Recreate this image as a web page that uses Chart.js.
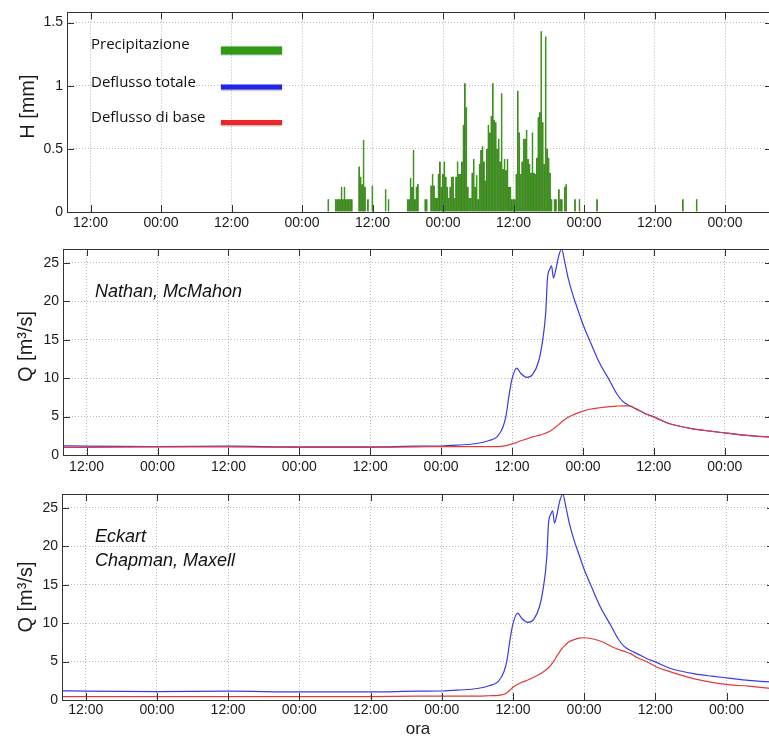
<!DOCTYPE html>
<html>
<head>
<meta charset="utf-8">
<script src="https://cdn.jsdelivr.net/npm/chart.js@4.4.1/dist/chart.umd.min.js"></script>
<style>
    html, body { margin: 0; padding: 0; background: #fff; }
    body { width: 769px; height: 736px; overflow: hidden; position: relative; }
    .panel { position: absolute; left: 0; }
    #rain-panel { top: 0; width: 772px; height: 236px; }
    #flow-a-panel { top: 236px; width: 772px; height: 243px; }
    #flow-b-panel { top: 479px; width: 774px; height: 261px; }
</style>
</head>
<body>
<div class="panel" id="rain-panel"><canvas id="rain-chart"></canvas></div>
<div class="panel" id="flow-a-panel"><canvas id="flow-a-chart"></canvas></div>
<div class="panel" id="flow-b-panel"><canvas id="flow-b-chart"></canvas></div>
<script>
// hours counted from the first 12:00 tick
var hourMin = -4;
var hourMax = 116;
var tickHours = [0, 12, 24, 36, 48, 60, 72, 84, 96, 108];

// precipitation, 15 minute steps from hour 40.5
var rainStartHour = 40.5;
var rainStepHours = 0.25;
var rainValues = [
    0.1, 0, 0, 0, 0, 0.1, 0.1, 0.1, 0.1, 0.2,
    0.1, 0.2, 0.1, 0.1, 0.1, 0.1, 0.1, 0, 0, 0,
    0, 0.36, 0.28, 0.22, 0.57, 0.2, 0, 0.1, 0, 0,
    0.21, 0, 0, 0, 0, 0, 0, 0, 0, 0.18,
    0, 0.1, 0, 0, 0, 0, 0, 0, 0, 0,
    0, 0, 0, 0, 0.1, 0.1, 0.27, 0.2, 0.49, 0.1,
    0.2, 0.22, 0, 0, 0, 0, 0.1, 0.1, 0, 0,
    0.21, 0.3, 0.21, 0.11, 0.11, 0.3, 0.4, 0.2, 0.3, 0.4,
    0.28, 0.2, 0.11, 0.2, 0.28, 0.28, 0.11, 0.28, 0.4, 0.3,
    0.3, 0.4, 0.69, 1.02, 0.83, 0.2, 0.11, 0.11, 0.31, 0.42,
    0.2, 0.29, 0.1, 0.38, 0.49, 0.52, 0.4, 0.25, 0.5, 0.69,
    0.63, 0.76, 1.02, 0.73, 0.71, 0.5, 0.58, 0.4, 0.94, 0.34,
    0.42, 0.33, 0.42, 0.2, 0.2, 0.1, 0.1, 0.1, 0.3, 0.96,
    0.63, 0.3, 0.4, 0.58, 0.58, 0.65, 0.42, 0.38, 0.31, 0.63,
    0.31, 0.3, 0.43, 0.75, 0.79, 1.43, 0.71, 0.38, 1.39, 0.5,
    0.43, 0.31, 0.1, 0, 0.1, 0.1, 0, 0.18, 0.1, 0.1,
    0, 0.2, 0.22, 0, 0, 0, 0, 0, 0.1, 0,
    0, 0.1, 0, 0, 0, 0, 0, 0, 0, 0,
    0, 0, 0, 0.1
];
var lateRainHours = [100.85, 103.2];
var lateRainValues = [0.1, 0.1];

// discharge [m3/s]
var flowHours = [
    -4, 0, 12, 24, 36, 48, 56, 60, 63, 66,
    68, 69.5, 70.5, 71, 71.5, 72, 72.8, 73.5, 74.5, 75.5,
    76.5, 77.2, 77.7, 78, 78.4, 78.7, 79, 79.4, 79.9, 80.4,
    80.9, 81.5, 82.3, 83.1, 84, 85.2, 86.8, 88.5, 89.7, 90.7,
    91.9, 93, 94.5, 96.2, 98.2, 100, 102.6, 105.5, 108.3, 111.7,
    116
];
var totalFlow = [
    1.2, 1.15, 1.1, 1.15, 1.05, 1.05, 1.15, 1.17, 1.3, 1.5,
    1.85, 2.4, 3.7, 5.2, 7.8, 9.9, 11.3, 10.6, 10.1, 10.5,
    12.2, 15.0, 18.5, 23.0, 24.2, 24.6, 23.0, 24.1, 25.9, 26.8,
    25.2, 23.0, 20.8, 19.0, 17.0, 14.8, 12.0, 9.7, 8.0, 7.0,
    6.4, 6.0, 5.4, 4.9, 4.2, 3.8, 3.4, 3.1, 2.85, 2.55,
    2.3
];
var baseFlowNathan = [
    1.0, 1.0, 1.05, 1.05, 1.0, 1.0, 1.05, 1.1, 1.1, 1.1,
    1.1, 1.1, 1.15, 1.22, 1.32, 1.45, 1.65, 1.85, 2.1, 2.35,
    2.55, 2.7, 2.85, 2.95, 3.1, 3.25, 3.4, 3.65, 3.95, 4.3,
    4.6, 4.9, 5.2, 5.45, 5.7, 5.95, 6.15, 6.3, 6.35, 6.4,
    6.4, 6.0, 5.4, 4.9, 4.2, 3.8, 3.4, 3.1, 2.85, 2.55,
    2.3
];
var baseFlowEckart = [
    0.45, 0.45, 0.45, 0.45, 0.45, 0.45, 0.5, 0.5, 0.5, 0.5,
    0.55, 0.6, 0.75, 0.95, 1.3, 1.65, 2.05, 2.3, 2.6, 2.95,
    3.35, 3.7, 4.0, 4.2, 4.55, 4.85, 5.2, 5.7, 6.3, 6.8,
    7.2, 7.6, 7.85, 8.05, 8.1, 8.0, 7.65, 7.0, 6.6, 6.35,
    6.0, 5.5, 5.0, 4.3, 3.75, 3.3, 2.75, 2.3, 2.0, 1.8,
    1.45
];

var legendLabels = ['Precipitazione', 'Deflusso totale', 'Deflusso di base'];
var legendColors = ['#2f9a16', '#2323ee', '#ee2626'];

Chart.defaults.font.family = '"Liberation Sans", Arial, sans-serif';
Chart.defaults.color = '#1a1a1a';
Chart.defaults.animation = false;

function toPoints(hours, values) {
    return hours.map(function (h, i) { return { x: h, y: values[i] }; });
}

function rainPoints() {
    var pts = rainValues.map(function (v, i) {
        return { x: rainStartHour + i * rainStepHours, y: v };
    });
    return pts.concat(toPoints(lateRainHours, lateRainValues));
}

// matlab style box with inward ticks
var boxTicks = {
    id: 'boxTicks',
    afterDatasetsDraw: function (chart) {
        var ctx = chart.ctx, a = chart.chartArea, sx = chart.scales.x, sy = chart.scales.y;
        var len = 7;
        ctx.save();
        ctx.strokeStyle = '#333';
        ctx.lineWidth = 1;
        ctx.beginPath();
        sx.ticks.forEach(function (t) {
            var x = Math.round(sx.getPixelForValue(t.value)) + 0.5;
            ctx.moveTo(x, a.bottom); ctx.lineTo(x, a.bottom - len);
            ctx.moveTo(x, a.top); ctx.lineTo(x, a.top + len);
        });
        sy.ticks.forEach(function (t) {
            var y = Math.round(sy.getPixelForValue(t.value)) + 0.5;
            ctx.moveTo(a.left, y); ctx.lineTo(a.left + len, y);
            ctx.moveTo(a.right, y); ctx.lineTo(a.right - len, y);
        });
        ctx.stroke();
        ctx.strokeRect(Math.round(a.left) + 0.5, Math.round(a.top) + 0.5,
            Math.round(a.right - a.left), Math.round(a.bottom - a.top));
        ctx.restore();
    }
};

// free text inside the plot area (legend, method names)
var notes = {
    id: 'notes',
    afterDraw: function (chart, args, opts) {
        var ctx = chart.ctx, a = chart.chartArea;
        ctx.save();
        ctx.textBaseline = 'middle';
        (opts.items || []).forEach(function (item) {
            ctx.font = item.font;
            ctx.fillStyle = '#111';
            ctx.fillText(item.text, a.left + item.dx, a.top + item.dy);
            if (item.swatch) {
                ctx.shadowColor = 'rgba(0,0,0,0.35)';
                ctx.shadowBlur = 2;
                ctx.shadowOffsetY = 1;
                ctx.strokeStyle = item.swatch;
                ctx.lineWidth = item.swatchWidth;
                ctx.beginPath();
                ctx.moveTo(a.left + 154, a.top + item.swatchDy);
                ctx.lineTo(a.left + 215, a.top + item.swatchDy);
                ctx.stroke();
                ctx.shadowColor = 'transparent';
            }
        });
        ctx.restore();
    }
};

function xScale(height, pad) {
    return {
        type: 'linear',
        min: hourMin,
        max: hourMax,
        offset: false,
        afterFit: function (s) { s.height = height; },
        afterBuildTicks: function (s) {
            s.ticks = tickHours.map(function (h) { return { value: h }; });
        },
        ticks: {
            padding: pad,
            maxRotation: 0,
            autoSkip: false,
            font: { size: 14 },
            callback: function (v) { return v % 24 === 0 ? '12:00' : '00:00'; }
        },
        grid: { offset: false, color: '#b8b8b8', drawTicks: false },
        border: { display: false, dash: [1, 2] }
    };
}

function yScale(width, max, step, title, titlePad) {
    return {
        min: 0,
        max: max,
        afterFit: function (s) { s.width = width; },
        ticks: {
            stepSize: step,
            includeBounds: false,
            padding: 4,
            font: { size: 14 },
            callback: function (v) { return String(v); }
        },
        grid: { color: '#b8b8b8', drawTicks: false },
        border: { display: false, dash: [1, 2] },
        title: { display: true, text: title, font: { size: 20 }, padding: { top: titlePad, bottom: 0 } }
    };
}

function renderRain() {
    var ctx = document.getElementById('rain-chart');
    var items = legendLabels.map(function (label, i) {
        return {
            text: label,
            font: '15px "Open Sans", sans-serif',
            dx: 24,
            dy: [32.5, 70.5, 105.5][i],
            swatch: legendColors[i],
            swatchDy: [38, 74.5, 110][i],
            swatchWidth: i === 0 ? 8 : 5
        };
    });
    new Chart(ctx, {
        type: 'bar',
        data: {
            datasets: [{
                label: legendLabels[0],
                data: rainPoints(),
                backgroundColor: '#379a12',
                borderColor: 'rgba(25,35,20,0.7)',
                borderWidth: { left: 0.45, right: 0, top: 0, bottom: 0 },
                barPercentage: 1,
                categoryPercentage: 1
            }]
        },
        options: {
            responsive: true,
            maintainAspectRatio: false,
            layout: { padding: { top: 8, left: 0, right: 0, bottom: 0 } },
            plugins: { legend: { display: false }, tooltip: { enabled: false }, notes: { items: items } },
            scales: {
                x: xScale(24, 3),
                y: yScale(67, 1.58, 0.5, '  H [mm]', 16)
            }
        },
        plugins: [boxTicks, notes]
    });
}

function renderFlow(canvasId, baseFlow, yWidth, padTop, xHeight, xPad, yTitle, notesItems, withXTitle) {
    var ctx = document.getElementById(canvasId);
    var x = xScale(xHeight, xPad);
    if (withXTitle) {
        x.title = { display: true, text: 'ora', font: { size: 17 }, padding: 0 };
    }
    new Chart(ctx, {
        type: 'line',
        data: {
            datasets: [{
                label: legendLabels[2],
                data: toPoints(flowHours, baseFlow),
                borderColor: '#e03a3a',
                borderWidth: 1.2,
                pointRadius: 0,
                cubicInterpolationMode: 'monotone'
            }, {
                label: legendLabels[1],
                data: toPoints(flowHours, totalFlow),
                borderColor: '#3b3be2',
                borderWidth: 1.2,
                pointRadius: 0,
                cubicInterpolationMode: 'monotone'
            }]
        },
        options: {
            responsive: true,
            maintainAspectRatio: false,
            layout: { padding: { top: padTop, left: 0, right: 0, bottom: 0 } },
            plugins: { legend: { display: false }, tooltip: { enabled: false }, notes: { items: notesItems } },
            scales: {
                x: x,
                y: yScale(yWidth, 26.8, 5, yTitle, 14)
            }
        },
        plugins: [boxTicks, notes]
    });
}

var italic = 'italic 18px "Liberation Sans", Arial, sans-serif';

renderRain();
renderFlow('flow-a-chart', baseFlowNathan, 63, 13, 24, 4, '  Q [m\u00b3/s]', [
    { text: 'Nathan, McMahon', font: italic, dx: 32, dy: 43 }
], false);
renderFlow('flow-b-chart', baseFlowEckart, 62, 15, 40, 2, 'Q [m\u00b3/s]', [
    { text: 'Eckart', font: italic, dx: 33, dy: 43 },
    { text: 'Chapman, Maxell', font: italic, dx: 33, dy: 67 }
], true);
</script>
</body>
</html>
